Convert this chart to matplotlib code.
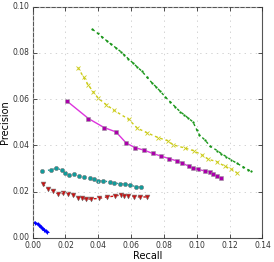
import matplotlib
matplotlib.use('Agg')
import matplotlib.pyplot as plt

# precision / recall curves
green_recall = [0.0364, 0.0397, 0.0425, 0.0452, 0.0478, 0.0507, 0.0537, 0.0559,
                0.0583, 0.061, 0.0635, 0.0665, 0.0695, 0.0726, 0.0752, 0.0776,
                0.0807, 0.0837, 0.0868, 0.0898, 0.0925, 0.0949, 0.0976, 0.1,
                0.1016, 0.105, 0.108, 0.1125, 0.115, 0.118, 0.121, 0.1243,
                0.128, 0.1314, 0.133]
green_precision = [0.0902, 0.0884, 0.0867, 0.0852, 0.0837, 0.0822, 0.0805, 0.0791,
                   0.0774, 0.0757, 0.074, 0.0721, 0.0696, 0.0671, 0.0653, 0.0635,
                   0.061, 0.0589, 0.0567, 0.0546, 0.0531, 0.0517, 0.0502, 0.0467,
                   0.0445, 0.0423, 0.0397, 0.0377, 0.0364, 0.0351, 0.0337, 0.0323,
                   0.0308, 0.0294, 0.0288]

yellow_recall = [0.0277, 0.031, 0.034, 0.037, 0.0401, 0.045, 0.0497, 0.0584,
                 0.0638, 0.0695, 0.0766, 0.0823, 0.0857, 0.0929, 0.098, 0.103,
                 0.107, 0.112, 0.117, 0.121, 0.1247]
yellow_precision = [0.0736, 0.0695, 0.066, 0.063, 0.0603, 0.0575, 0.0551, 0.0513,
                    0.0474, 0.0455, 0.0433, 0.042, 0.0402, 0.0388, 0.0377, 0.0359,
                    0.034, 0.033, 0.031, 0.0297, 0.028]

magenta_recall = [0.0208, 0.034, 0.0435, 0.0508, 0.057, 0.0624, 0.068, 0.0732,
                  0.078, 0.083, 0.0878, 0.091, 0.095, 0.0975, 0.101, 0.105,
                  0.108, 0.110, 0.112, 0.115]
magenta_precision = [0.0592, 0.0516, 0.0477, 0.0458, 0.041, 0.039, 0.0379, 0.0365,
                     0.0354, 0.0343, 0.0333, 0.0324, 0.031, 0.0303, 0.0296, 0.0289,
                     0.0286, 0.0276, 0.0268, 0.0257]

cyan_recall = [0.006, 0.0111, 0.0143, 0.0178, 0.0198, 0.0222, 0.0255, 0.0285,
               0.031, 0.035, 0.0375, 0.0401, 0.0431, 0.0472, 0.0498, 0.0533,
               0.0563, 0.0594, 0.0628, 0.0659]
cyan_precision = [0.0289, 0.0294, 0.0301, 0.0294, 0.028, 0.0272, 0.0276, 0.0268,
                  0.0265, 0.0261, 0.0255, 0.0248, 0.0245, 0.0243, 0.0236, 0.0235,
                  0.0232, 0.0228, 0.0222, 0.0219]

red_recall = [0.0062, 0.0096, 0.0123, 0.0157, 0.0188, 0.0218, 0.0248, 0.0275,
              0.03, 0.0326, 0.0356, 0.0407, 0.0452, 0.0502, 0.0539, 0.0559,
              0.058, 0.062, 0.0655, 0.0699]
red_precision = [0.0233, 0.021, 0.0204, 0.0189, 0.0193, 0.0189, 0.0186, 0.0174,
                 0.0171, 0.0168, 0.0168, 0.0171, 0.0177, 0.0181, 0.0186, 0.0183,
                 0.0183, 0.0178, 0.0177, 0.0177]

blue_recall = [0.0015, 0.003, 0.004, 0.005, 0.006, 0.007, 0.008, 0.009]
blue_precision = [0.0066, 0.006, 0.0055, 0.0048, 0.0042, 0.0036, 0.003, 0.0025]

plt.style.use('classic')
fig, ax = plt.subplots(figsize=(2.74, 2.62), dpi=100)
fig.patch.set_facecolor('white')

ax.plot(green_recall, green_precision, '--', color='#1a961a', marker='.',
        markersize=2.5, markeredgewidth=0.3, linewidth=1, dashes=(2, 2))
ax.plot(yellow_recall, yellow_precision, '--', color='#cccc1a', marker='x',
        markersize=3, markeredgewidth=0.6, linewidth=1, dashes=(2, 2))
ax.plot(magenta_recall, magenta_precision, '-', color='#dd33dd', marker='s',
        markersize=3.5, markeredgewidth=0.4, markeredgecolor='#999999',
        markerfacecolor='#aa00aa', linewidth=1)
ax.plot(cyan_recall, cyan_precision, ':', color='#109c9c', marker='o',
        markersize=3, markeredgewidth=0.4, markeredgecolor='#777777',
        linewidth=1)
ax.plot(red_recall, red_precision, '--', color='#cc1010', marker='v',
        markersize=3.5, markeredgewidth=0.4, markeredgecolor='#777777',
        linewidth=1, dashes=(2, 2))
ax.plot(blue_recall, blue_precision, '-', color='b', marker='+',
        markersize=2.5, markeredgewidth=0.8, linewidth=1.5)

ax.set_xlim(0, 0.14)
ax.set_ylim(0, 0.10)
ax.set_xticks([0.00, 0.02, 0.04, 0.06, 0.08, 0.10, 0.12, 0.14])
ax.set_yticks([0.00, 0.02, 0.04, 0.06, 0.08, 0.10])
ax.xaxis.set_major_formatter(plt.FormatStrFormatter('%.2f'))
ax.yaxis.set_major_formatter(plt.FormatStrFormatter('%.2f'))
ax.tick_params(labelsize=5.5, length=3, width=0.6, colors='#333333', pad=2)
for s in ax.spines.values():
    s.set_color('#555555')
    s.set_linewidth(0.8)
ax.grid(True, linestyle=':', color='#cccccc', linewidth=0.6)

ax.set_xlabel('Recall', fontsize=7, labelpad=1)
ax.set_ylabel('Precision', fontsize=7, labelpad=2)

fig.subplots_adjust(left=0.119, right=0.958, top=0.975, bottom=0.092)
fig.savefig('out.png', dpi=100, facecolor='white')
